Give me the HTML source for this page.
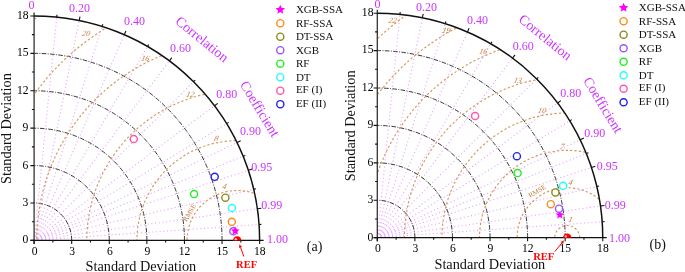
<!DOCTYPE html>
<html><head><meta charset="utf-8"><style>
html,body{margin:0;padding:0;background:#fff;}
svg{display:block;font-family:"Liberation Serif",serif;will-change:transform;}
</style></head><body>
<svg width="685" height="272" viewBox="0 0 685 272">
<rect width="685" height="272" fill="#fff"/>
<clipPath id="clipA"><path d="M34.1 240.4 L259.64 240.4 A225.54 224.46 0 0 0 34.1 15.94 Z"/></clipPath>
<g stroke="#e8a4ff" stroke-width="1.1" stroke-dasharray="1.1 2.6" fill="none"><line x1="34.1" y1="240.4" x2="259.08" y2="224.53"/><line x1="34.1" y1="240.4" x2="257.38" y2="208.74"/><line x1="34.1" y1="240.4" x2="253.72" y2="189.33"/><line x1="34.1" y1="240.4" x2="248.36" y2="170.31"/><line x1="34.1" y1="240.4" x2="243.19" y2="156.25"/><line x1="34.1" y1="240.4" x2="237.09" y2="142.56"/><line x1="34.1" y1="240.4" x2="226.7" y2="123.6"/><line x1="34.1" y1="240.4" x2="214.53" y2="105.72"/><line x1="34.1" y1="240.4" x2="193.58" y2="81.68"/><line x1="34.1" y1="240.4" x2="169.42" y2="60.83"/><line x1="34.1" y1="240.4" x2="147.63" y2="46.45"/><line x1="34.1" y1="240.4" x2="124.32" y2="34.68"/><line x1="34.1" y1="240.4" x2="102.14" y2="26.4"/><line x1="34.1" y1="240.4" x2="79.21" y2="20.48"/><line x1="34.1" y1="240.4" x2="56.77" y2="17.08"/></g>
<g stroke="#2a2a2a" stroke-width="0.95" stroke-dasharray="4.5 1.4 1 1.4" fill="none"><path d="M71.69 240.4 A37.59 37.41 0 0 0 34.1 202.99"/><path d="M109.28 240.4 A75.18 74.82 0 0 0 34.1 165.58"/><path d="M146.87 240.4 A112.77 112.23 0 0 0 34.1 128.17"/><path d="M184.46 240.4 A150.36 149.64 0 0 0 34.1 90.76"/><path d="M222.05 240.4 A187.95 187.05 0 0 0 34.1 53.35"/></g>
<g clip-path="url(#clipA)" stroke="#d6965e" stroke-width="1.15" stroke-dasharray="2.3 2.1" fill="none"><path d="M287.32 240.4 A50.12 49.88 0 0 0 187.08 240.4"/><path d="M337.44 240.4 A100.24 99.76 0 0 0 136.96 240.4"/><path d="M387.56 240.4 A150.36 149.64 0 0 0 86.84 240.4"/><path d="M437.68 240.4 A200.48 199.52 0 0 0 36.72 240.4"/><path d="M487.8 240.4 A250.6 249.4 0 0 0 -13.4 240.4"/><path d="M537.92 240.4 A300.72 299.28 0 0 0 -63.52 240.4"/></g>
<path d="M34.1 244 L34.1 12.44" stroke="#333" stroke-width="1.3" fill="none"/>
<path d="M30.4 240.4 L263.64 240.4" stroke="#111" stroke-width="1.3" fill="none"/>
<path d="M259.64 240.4 A225.54 224.46 0 0 0 34.1 15.94" stroke="#111" stroke-width="1.5" fill="none"/>
<path d="M34.1 240.4h-3.7M34.1 240.4v3.7M34.1 221.69h-2.2M52.89 240.4v2.2M34.1 202.99h-3.7M71.69 240.4v3.7M34.1 184.28h-2.2M90.48 240.4v2.2M34.1 165.58h-3.7M109.28 240.4v3.7M34.1 146.88h-2.2M128.07 240.4v2.2M34.1 128.17h-3.7M146.87 240.4v3.7M34.1 109.47h-2.2M165.66 240.4v2.2M34.1 90.76h-3.7M184.46 240.4v3.7M34.1 72.06h-2.2M203.25 240.4v2.2M34.1 53.35h-3.7M222.05 240.4v3.7M34.1 34.64h-2.2M240.84 240.4v2.2M34.1 15.94h-3.7M259.64 240.4v3.7M79.21 20.48l0.8 -3.92M124.32 34.68l1.6 -3.67M169.42 60.83l2.4 -3.2M214.53 105.72l3.2 -2.4M237.09 142.56l3.6 -1.74M248.36 170.31l3.8 -1.25M257.38 208.74l3.96 -0.56M56.77 17.08l0.23 -2.29M102.14 26.4l0.69 -2.19M147.63 46.45l1.16 -1.99M193.58 81.68l1.63 -1.63M226.7 123.6l1.96 -1.2M243.19 156.25l2.13 -0.86M253.72 189.33l2.24 -0.52M259.08 224.53l2.29 -0.16" stroke="#111" stroke-width="1.1" fill="none"/>
<circle cx="133.75" cy="139" r="3.55" fill="#fff" stroke="#ff55aa" stroke-width="1.4"/>
<circle cx="214.7" cy="176.8" r="3.55" fill="#fff" stroke="#2222ee" stroke-width="1.4"/>
<circle cx="194.1" cy="194" r="3.55" fill="#fff" stroke="#22ee22" stroke-width="1.4"/>
<circle cx="225.4" cy="197.7" r="3.55" fill="#fff" stroke="#8a8a1a" stroke-width="1.4"/>
<circle cx="231.9" cy="208" r="3.55" fill="#fff" stroke="#22ffff" stroke-width="1.4"/>
<circle cx="231.8" cy="221.8" r="3.55" fill="#fff" stroke="#ff8c1a" stroke-width="1.4"/>
<circle cx="233.3" cy="231.3" r="3.55" fill="#fff" stroke="#9955ff" stroke-width="1.4"/>
<polygon points="235.2,226.5 236.4,229.34 239.48,229.61 237.15,231.63 237.85,234.64 235.2,233.05 232.55,234.64 233.25,231.63 230.92,229.61 234,229.34" fill="#ff00ff"/>
<g clip-path="url(#clipA)"><circle cx="237.2" cy="240.4" r="4.2" fill="#ff0000"/><circle cx="235.8" cy="239.2" r="1.2" fill="#ffb0b0"/></g>
<clipPath id="clipB"><path d="M377.3 237.65 L602.75 237.65 A225.45 224.46 0 0 0 377.3 13.19 Z"/></clipPath>
<g stroke="#e8a4ff" stroke-width="1.1" stroke-dasharray="1.1 2.6" fill="none"><line x1="377.3" y1="237.65" x2="602.19" y2="221.78"/><line x1="377.3" y1="237.65" x2="600.5" y2="205.99"/><line x1="377.3" y1="237.65" x2="596.84" y2="186.58"/><line x1="377.3" y1="237.65" x2="591.48" y2="167.56"/><line x1="377.3" y1="237.65" x2="586.31" y2="153.5"/><line x1="377.3" y1="237.65" x2="580.21" y2="139.81"/><line x1="377.3" y1="237.65" x2="569.82" y2="120.85"/><line x1="377.3" y1="237.65" x2="557.66" y2="102.97"/><line x1="377.3" y1="237.65" x2="536.72" y2="78.93"/><line x1="377.3" y1="237.65" x2="512.57" y2="58.08"/><line x1="377.3" y1="237.65" x2="490.79" y2="43.7"/><line x1="377.3" y1="237.65" x2="467.48" y2="31.93"/><line x1="377.3" y1="237.65" x2="445.31" y2="23.65"/><line x1="377.3" y1="237.65" x2="422.39" y2="17.73"/><line x1="377.3" y1="237.65" x2="399.96" y2="14.33"/></g>
<g stroke="#2a2a2a" stroke-width="0.95" stroke-dasharray="4.5 1.4 1 1.4" fill="none"><path d="M414.88 237.65 A37.58 37.41 0 0 0 377.3 200.24"/><path d="M452.45 237.65 A75.15 74.82 0 0 0 377.3 162.83"/><path d="M490.03 237.65 A112.73 112.23 0 0 0 377.3 125.42"/><path d="M527.6 237.65 A150.3 149.64 0 0 0 377.3 88.01"/><path d="M565.17 237.65 A187.88 187.05 0 0 0 377.3 50.6"/></g>
<g clip-path="url(#clipB)" stroke="#d6965e" stroke-width="1.15" stroke-dasharray="2.3 2.1" fill="none"><path d="M579.73 237.65 A12.53 12.47 0 0 0 554.68 237.65"/><path d="M617.3 237.65 A50.1 49.88 0 0 0 517.1 237.65"/><path d="M654.88 237.65 A87.67 87.29 0 0 0 479.53 237.65"/><path d="M692.45 237.65 A125.25 124.7 0 0 0 441.95 237.65"/><path d="M730.03 237.65 A162.83 162.11 0 0 0 404.38 237.65"/><path d="M767.6 237.65 A200.4 199.52 0 0 0 366.8 237.65"/><path d="M805.18 237.65 A237.97 236.93 0 0 0 329.23 237.65"/><path d="M842.75 237.65 A275.55 274.34 0 0 0 291.65 237.65"/></g>
<path d="M377.3 241.25 L377.3 9.69" stroke="#333" stroke-width="1.3" fill="none"/>
<path d="M373.6 237.65 L606.75 237.65" stroke="#111" stroke-width="1.3" fill="none"/>
<path d="M602.75 237.65 A225.45 224.46 0 0 0 377.3 13.19" stroke="#111" stroke-width="1.5" fill="none"/>
<path d="M377.3 237.65h-3.7M377.3 237.65v3.7M377.3 218.94h-2.2M396.09 237.65v2.2M377.3 200.24h-3.7M414.88 237.65v3.7M377.3 181.53h-2.2M433.66 237.65v2.2M377.3 162.83h-3.7M452.45 237.65v3.7M377.3 144.12h-2.2M471.24 237.65v2.2M377.3 125.42h-3.7M490.03 237.65v3.7M377.3 106.72h-2.2M508.81 237.65v2.2M377.3 88.01h-3.7M527.6 237.65v3.7M377.3 69.31h-2.2M546.39 237.65v2.2M377.3 50.6h-3.7M565.17 237.65v3.7M377.3 31.89h-2.2M583.96 237.65v2.2M377.3 13.19h-3.7M602.75 237.65v3.7M422.39 17.73l0.8 -3.92M467.48 31.93l1.6 -3.67M512.57 58.08l2.4 -3.2M557.66 102.97l3.2 -2.4M580.21 139.81l3.6 -1.74M591.48 167.56l3.8 -1.25M600.5 205.99l3.96 -0.56M399.96 14.33l0.23 -2.29M445.31 23.65l0.69 -2.19M490.79 43.7l1.16 -1.99M536.72 78.93l1.63 -1.63M569.82 120.85l1.96 -1.2M586.31 153.5l2.13 -0.86M596.84 186.58l2.24 -0.52M602.19 221.78l2.29 -0.16" stroke="#111" stroke-width="1.1" fill="none"/>
<polygon points="559.8,210.4 561,213.24 564.08,213.51 561.75,215.53 562.45,218.54 559.8,216.95 557.15,218.54 557.85,215.53 555.52,213.51 558.6,213.24" fill="#ff00ff"/>
<circle cx="475.1" cy="116" r="3.55" fill="#fff" stroke="#ff55aa" stroke-width="1.4"/>
<circle cx="516.9" cy="156.2" r="3.55" fill="#fff" stroke="#2222ee" stroke-width="1.4"/>
<circle cx="517.6" cy="173.1" r="3.55" fill="#fff" stroke="#22ee22" stroke-width="1.4"/>
<circle cx="563.1" cy="185.8" r="3.55" fill="#fff" stroke="#22ffff" stroke-width="1.4"/>
<circle cx="555.4" cy="192.4" r="3.55" fill="#fff" stroke="#8a8a1a" stroke-width="1.4"/>
<circle cx="550.8" cy="204.2" r="3.55" fill="#fff" stroke="#ff8c1a" stroke-width="1.4"/>
<circle cx="559" cy="208.7" r="3.55" fill="#fff" stroke="#9955ff" stroke-width="1.4"/>
<g clip-path="url(#clipB)"><circle cx="567.2" cy="237.65" r="4.2" fill="#ff0000"/><circle cx="565.8" cy="236.45" r="1.2" fill="#ffb0b0"/></g>
<polygon points="280.3,4.7 281.65,7.84 285.06,8.15 282.49,10.41 283.24,13.75 280.3,12 277.36,13.75 278.11,10.41 275.54,8.15 278.95,7.84" fill="#ff00ff"/>
<circle cx="280.3" cy="23.19" r="3.55" fill="#fff" stroke="#ff8c1a" stroke-width="1.4"/>
<circle cx="280.3" cy="36.68" r="3.55" fill="#fff" stroke="#8a8a1a" stroke-width="1.4"/>
<circle cx="280.3" cy="50.17" r="3.55" fill="#fff" stroke="#9955ff" stroke-width="1.4"/>
<circle cx="280.3" cy="63.66" r="3.55" fill="#fff" stroke="#22ee22" stroke-width="1.4"/>
<circle cx="280.3" cy="77.15" r="3.55" fill="#fff" stroke="#22ffff" stroke-width="1.4"/>
<circle cx="280.3" cy="90.64" r="3.55" fill="#fff" stroke="#ff55aa" stroke-width="1.4"/>
<circle cx="280.3" cy="104.13" r="3.55" fill="#fff" stroke="#2222ee" stroke-width="1.4"/>
<polygon points="623.6,2.7 624.95,5.84 628.36,6.15 625.79,8.41 626.54,11.75 623.6,10 620.66,11.75 621.41,8.41 618.84,6.15 622.25,5.84" fill="#ff00ff"/>
<circle cx="623.6" cy="21.21" r="3.55" fill="#fff" stroke="#ff8c1a" stroke-width="1.4"/>
<circle cx="623.6" cy="34.72" r="3.55" fill="#fff" stroke="#8a8a1a" stroke-width="1.4"/>
<circle cx="623.6" cy="48.23" r="3.55" fill="#fff" stroke="#9955ff" stroke-width="1.4"/>
<circle cx="623.6" cy="61.74" r="3.55" fill="#fff" stroke="#22ee22" stroke-width="1.4"/>
<circle cx="623.6" cy="75.25" r="3.55" fill="#fff" stroke="#22ffff" stroke-width="1.4"/>
<circle cx="623.6" cy="88.76" r="3.55" fill="#fff" stroke="#ff55aa" stroke-width="1.4"/>
<circle cx="623.6" cy="102.27" r="3.55" fill="#fff" stroke="#2222ee" stroke-width="1.4"/>
<line x1="243.8" y1="256.5" x2="240.58" y2="247.5" stroke="#ff0000" stroke-width="1"/><polygon points="239.4,244.2 242.09,246.96 239.07,248.03" fill="#ff0000"/>
<line x1="554.8" y1="251.6" x2="561.89" y2="242.91" stroke="#ff0000" stroke-width="1"/><polygon points="564.1,240.2 563.13,243.92 560.65,241.9" fill="#ff0000"/>
<g><text x="22.62" y="243.4" font-size="12.5" fill="#000" transform="translate(22.62 243.4) scale(0.93 1) translate(-22.62 -243.4)">0</text>
<text x="31.71" y="255" font-size="12.5" fill="#000" transform="translate(31.71 255) scale(0.93 1) translate(-31.71 -255)">0</text>
<text x="22.62" y="205.99" font-size="12.5" fill="#000" transform="translate(22.62 205.99) scale(0.93 1) translate(-22.62 -205.99)">3</text>
<text x="69.3" y="255" font-size="12.5" fill="#000" transform="translate(69.3 255) scale(0.93 1) translate(-69.3 -255)">3</text>
<text x="22.62" y="168.58" font-size="12.5" fill="#000" transform="translate(22.62 168.58) scale(0.93 1) translate(-22.62 -168.58)">6</text>
<text x="106.89" y="255" font-size="12.5" fill="#000" transform="translate(106.89 255) scale(0.93 1) translate(-106.89 -255)">6</text>
<text x="22.62" y="131.17" font-size="12.5" fill="#000" transform="translate(22.62 131.17) scale(0.93 1) translate(-22.62 -131.17)">9</text>
<text x="144.48" y="255" font-size="12.5" fill="#000" transform="translate(144.48 255) scale(0.93 1) translate(-144.48 -255)">9</text>
<text x="17.04" y="93.76" font-size="12.5" fill="#000" transform="translate(17.04 93.76) scale(0.93 1) translate(-17.04 -93.76)">12</text>
<text x="178.81" y="255" font-size="12.5" fill="#000" transform="translate(178.81 255) scale(0.93 1) translate(-178.81 -255)">12</text>
<text x="17.04" y="56.35" font-size="12.5" fill="#000" transform="translate(17.04 56.35) scale(0.93 1) translate(-17.04 -56.35)">15</text>
<text x="216.41" y="255" font-size="12.5" fill="#000" transform="translate(216.41 255) scale(0.93 1) translate(-216.41 -255)">15</text>
<text x="17.04" y="18.94" font-size="12.5" fill="#000" transform="translate(17.04 18.94) scale(0.93 1) translate(-17.04 -18.94)">18</text>
<text x="253.99" y="255" font-size="12.5" fill="#000" transform="translate(253.99 255) scale(0.93 1) translate(-253.99 -255)">18</text>
<text x="28.55" y="8.65" font-size="12" fill="#cc33ff">0</text>
<text x="68.95" y="12.45" font-size="12" fill="#cc33ff">0.20</text>
<text x="123.95" y="25.4" font-size="12" fill="#cc33ff">0.40</text>
<text x="170.05" y="51.75" font-size="12" fill="#cc33ff">0.60</text>
<text x="216.2" y="98.3" font-size="12" fill="#cc33ff">0.80</text>
<text x="240.05" y="134.5" font-size="12" fill="#cc33ff">0.90</text>
<text x="251.2" y="170.6" font-size="12" fill="#cc33ff">0.95</text>
<text x="261.15" y="208.55" font-size="12" fill="#cc33ff">0.99</text>
<text x="267.1" y="243.35" font-size="12" fill="#cc33ff">1.00</text>
<text x="81.5" y="36.1" font-size="8" fill="#c47c3c" font-style="italic" transform="translate(81.5 36.1) skewX(-14) translate(-81.5 -36.1)">20</text>
<text x="140.8" y="60.9" font-size="8" fill="#c47c3c" font-style="italic" transform="translate(140.8 60.9) skewX(-14) translate(-140.8 -60.9)">16</text>
<text x="185.7" y="97.3" font-size="8" fill="#c47c3c" font-style="italic" transform="translate(185.7 97.3) skewX(-14) translate(-185.7 -97.3)">12</text>
<text x="213.7" y="140.6" font-size="8" fill="#c47c3c" font-style="italic" transform="translate(213.7 140.6) skewX(-14) translate(-213.7 -140.6)">8</text>
<text x="222" y="189.5" font-size="8" fill="#c47c3c" font-style="italic" transform="translate(222 189.5) skewX(-14) translate(-222 -189.5)">4</text>
<text x="367.42" y="240.55" font-size="12.5" fill="#000" transform="translate(367.42 240.55) scale(0.93 1) translate(-367.42 -240.55)">0</text>
<text x="374.91" y="252.5" font-size="12.5" fill="#000" transform="translate(374.91 252.5) scale(0.93 1) translate(-374.91 -252.5)">0</text>
<text x="367.42" y="203.14" font-size="12.5" fill="#000" transform="translate(367.42 203.14) scale(0.93 1) translate(-367.42 -203.14)">3</text>
<text x="412.48" y="252.5" font-size="12.5" fill="#000" transform="translate(412.48 252.5) scale(0.93 1) translate(-412.48 -252.5)">3</text>
<text x="367.42" y="165.73" font-size="12.5" fill="#000" transform="translate(367.42 165.73) scale(0.93 1) translate(-367.42 -165.73)">6</text>
<text x="450.06" y="252.5" font-size="12.5" fill="#000" transform="translate(450.06 252.5) scale(0.93 1) translate(-450.06 -252.5)">6</text>
<text x="367.42" y="128.32" font-size="12.5" fill="#000" transform="translate(367.42 128.32) scale(0.93 1) translate(-367.42 -128.32)">9</text>
<text x="487.63" y="252.5" font-size="12.5" fill="#000" transform="translate(487.63 252.5) scale(0.93 1) translate(-487.63 -252.5)">9</text>
<text x="361.84" y="90.91" font-size="12.5" fill="#000" transform="translate(361.84 90.91) scale(0.93 1) translate(-361.84 -90.91)">12</text>
<text x="521.96" y="252.5" font-size="12.5" fill="#000" transform="translate(521.96 252.5) scale(0.93 1) translate(-521.96 -252.5)">12</text>
<text x="361.84" y="53.5" font-size="12.5" fill="#000" transform="translate(361.84 53.5) scale(0.93 1) translate(-361.84 -53.5)">15</text>
<text x="559.53" y="252.5" font-size="12.5" fill="#000" transform="translate(559.53 252.5) scale(0.93 1) translate(-559.53 -252.5)">15</text>
<text x="361.84" y="16.09" font-size="12.5" fill="#000" transform="translate(361.84 16.09) scale(0.93 1) translate(-361.84 -16.09)">18</text>
<text x="597.11" y="252.5" font-size="12.5" fill="#000" transform="translate(597.11 252.5) scale(0.93 1) translate(-597.11 -252.5)">18</text>
<text x="374.55" y="8" font-size="12" fill="#cc33ff">0</text>
<text x="416" y="11.35" font-size="12" fill="#cc33ff">0.20</text>
<text x="466.95" y="23.6" font-size="12" fill="#cc33ff">0.40</text>
<text x="512.7" y="50.2" font-size="12" fill="#cc33ff">0.60</text>
<text x="560.3" y="97.3" font-size="12" fill="#cc33ff">0.80</text>
<text x="584.15" y="136.55" font-size="12" fill="#cc33ff">0.90</text>
<text x="596.8" y="169.68" font-size="12" fill="#cc33ff">0.95</text>
<text x="604.7" y="209.1" font-size="12" fill="#cc33ff">0.99</text>
<text x="609.05" y="241.65" font-size="12" fill="#cc33ff">1.00</text>
<text x="388.1" y="22.9" font-size="8" fill="#c47c3c" font-style="italic" transform="translate(388.1 22.9) skewX(-14) translate(-388.1 -22.9)">22</text>
<text x="441.8" y="33.1" font-size="8" fill="#c47c3c" font-style="italic" transform="translate(441.8 33.1) skewX(-14) translate(-441.8 -33.1)">19</text>
<text x="478.8" y="53.6" font-size="8" fill="#c47c3c" font-style="italic" transform="translate(478.8 53.6) skewX(-14) translate(-478.8 -53.6)">16</text>
<text x="513.3" y="82.9" font-size="8" fill="#c47c3c" font-style="italic" transform="translate(513.3 82.9) skewX(-14) translate(-513.3 -82.9)">13</text>
<text x="537.4" y="113.5" font-size="8" fill="#c47c3c" font-style="italic" transform="translate(537.4 113.5) skewX(-14) translate(-537.4 -113.5)">10</text>
<text x="559.8" y="149.2" font-size="8" fill="#c47c3c" font-style="italic" transform="translate(559.8 149.2) skewX(-14) translate(-559.8 -149.2)">7</text>
<text x="567.9" y="185.2" font-size="8" fill="#c47c3c" font-style="italic" transform="translate(567.9 185.2) skewX(-14) translate(-567.9 -185.2)">4</text>
<text x="568" y="222.2" font-size="8" fill="#c47c3c" font-style="italic" transform="translate(568 222.2) skewX(-14) translate(-568 -222.2)">1</text>
<text x="295.9" y="13.2" font-size="11" fill="#111">XGB-SSA</text>
<text x="295.9" y="26.69" font-size="11" fill="#111">RF-SSA</text>
<text x="295.9" y="40.18" font-size="11" fill="#111">DT-SSA</text>
<text x="295.9" y="53.67" font-size="11" fill="#111">XGB</text>
<text x="295.9" y="67.16" font-size="11" fill="#111">RF</text>
<text x="295.9" y="80.65" font-size="11" fill="#111">DT</text>
<text x="295.9" y="93.14" font-size="11" fill="#111">EF (I)</text>
<text x="295.9" y="106.63" font-size="11" fill="#111">EF (II)</text>
<text x="638.8" y="11.2" font-size="11" fill="#111">XGB-SSA</text>
<text x="638.8" y="24.71" font-size="11" fill="#111">RF-SSA</text>
<text x="638.8" y="38.22" font-size="11" fill="#111">DT-SSA</text>
<text x="638.8" y="51.73" font-size="11" fill="#111">XGB</text>
<text x="638.8" y="65.24" font-size="11" fill="#111">RF</text>
<text x="638.8" y="78.75" font-size="11" fill="#111">DT</text>
<text x="638.8" y="91.26" font-size="11" fill="#111">EF (I)</text>
<text x="638.8" y="104.77" font-size="11" fill="#111">EF (II)</text>
<text x="85.5" y="271" font-size="14.3" fill="#111">Standard Deviation</text>
<text x="434.45" y="268.8" font-size="14.3" fill="#111">Standard Deviation</text>
<text x="10.85" y="183.95" font-size="14.3" fill="#111" transform="rotate(-90 10.85 183.95)">Standard Deviation</text>
<text x="355.45" y="181.15" font-size="14.3" fill="#111" transform="rotate(-90 355.45 181.15)">Standard Deviation</text>
<text x="174.45" y="22.8" font-size="14" fill="#cc33ff" transform="rotate(39 174.45 22.8)">Correlation</text>
<text x="239.5" y="84.55" font-size="14" fill="#cc33ff" transform="rotate(58.5 239.5 84.55)">Coefficient</text>
<text x="517.65" y="20.85" font-size="14" fill="#cc33ff" transform="rotate(39 517.65 20.85)">Correlation</text>
<text x="582.75" y="80.65" font-size="14" fill="#cc33ff" transform="rotate(58.5 582.75 80.65)">Coefficient</text>
<text x="186.5" y="222" font-size="7" fill="#c47c3c" transform="rotate(-59 186.5 222)">RMSE</text>
<text x="530.2" y="198.1" font-size="7" fill="#c47c3c" transform="rotate(-32 530.2 198.1)">RMSE</text>
<text x="236.05" y="267.5" font-size="10.5" fill="#ff0000" font-weight="bold">REF</text>
<text x="533.25" y="259.85" font-size="10.5" fill="#ff0000" font-weight="bold">REF</text>
<text x="306.8" y="251.38" font-size="14" fill="#111">(a)</text>
<text x="649.6" y="248.65" font-size="14" fill="#111">(b)</text></g>
</svg></body></html>
